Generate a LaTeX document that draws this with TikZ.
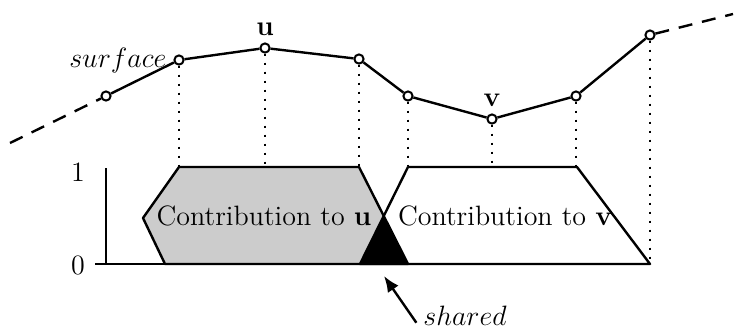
\documentclass[tikz,border=0pt]{standalone}
\usepackage{fix-cm}
\usepackage{tikz}
\usetikzlibrary{arrows.meta, positioning, calc}

\begin{document}
\begin{tikzpicture}[
  x=0.5pt, y=-0.5pt,
  font=\fontsize{14}{17}\selectfont,
  pt/.style={
    draw, circle, fill=white, line width=1pt, inner sep=0pt, minimum size=4.6pt
  },
  surf/.style={line width=1.2pt},
  drop/.style={line width=1.2pt, dash pattern=on 1.1pt off 3.4pt},
  ext/.style={line width=1.2pt, dash pattern=on 7pt off 5pt},
  share/.style={line width=1.2pt, line join=round}
]
  \useasboundingbox (0,0) rectangle (741,333);

  % weights (drawn first, surface on top)
  \fill[gray!40] (179,167) -- (359,167) -- (408,264) -- (165,264) -- (143,218) -- cycle;
  \fill[white] (408,167) -- (577,167) -- (650,264) -- (360,264) -- cycle;
  \fill[black] (360,264) -- (intersection of 359,167--408,264 and 408,167--360,264)
    -- (408,264) -- cycle;
  \draw[share] (179,167) -- (359,167) -- (408,264) -- (165,264) -- (143,218) -- cycle;
  \draw[share] (408,167) -- (577,167) -- (650,264) -- (360,264) -- cycle;
  \node (cu) at (264,216) {Contribution to \textbf{u}};
  \node (cv) at (505,216) {Contribution to \textbf{v}};

  % axis
  \coordinate (ax0) at (95,264);
  \coordinate (ax1) at (650,264);
  \coordinate (ay1) at (106,168);
  \draw[surf] (ax0) -- (ax1);
  \draw[surf] (ay1) -- (ay1 |- ax0);
  \node (one) at (78,172) {1};
  \node (zero) at (78,265) {0};

  % surface samples
  \node[pt] (s1) at (106,96) {};
  \node[pt] (s2) at (179,60) {};
  \node[pt] (s3) at (265,48) {};
  \node[pt] (s4) at (359,59) {};
  \node[pt] (s5) at (408,96) {};
  \node[pt] (s6) at (492,119) {};
  \node[pt] (s7) at (576,96) {};
  \node[pt] (s8) at (650,35) {};
  \coordinate (sl) at (10,143);
  \coordinate (sr) at (733,14);

  \draw[surf] (s1) -- (s2) -- (s3) -- (s4) -- (s5) -- (s6) -- (s7) -- (s8);
  \draw[ext] (sl) -- (s1);
  \draw[ext] (s8) -- (sr);

  \foreach \s in {s2,s3,s4,s5,s6,s7} {
    \draw[drop] (\s) -- (\s |- 0,166);
  }
  \draw[drop] (s8) -- (s8 |- ax1);

  \node[left=0pt of s2] (surflbl) {$surface$};
  \node[above=0pt of s3] (ulbl) {\textbf{u}};
  \node[above=0pt of s6] (vlbl) {\textbf{v}};

  % shared part
  \node (shr) at (465,316) {$shared$};
  \coordinate (shtip) at (384,276);
  \draw[line width=1.2pt, -{Latex[length=8pt, width=6.5pt]}]
    ([yshift=1.5pt]shr.base west) -- (shtip);
\end{tikzpicture}
\end{document}
